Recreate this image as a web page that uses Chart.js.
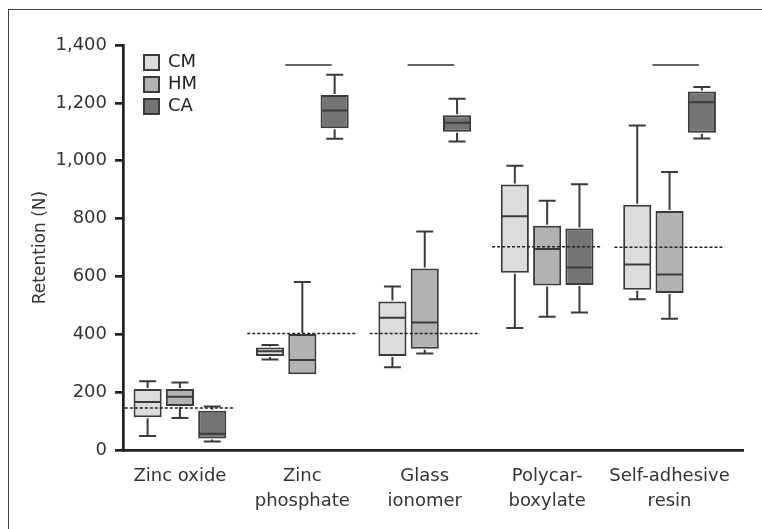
<!DOCTYPE html>
<html><head><meta charset="utf-8">
<script src="https://cdn.jsdelivr.net/npm/chart.js@4.4.1/dist/chart.umd.min.js"></script>
<style>
html,body{margin:0;padding:0;background:#fff;overflow:hidden}
#wrap{position:relative;width:762px;height:529px;overflow:hidden}
#frame{position:absolute;left:8px;top:9px;width:800px;height:600px;border:1.5px solid #444;box-sizing:border-box;pointer-events:none}
canvas{position:absolute;left:0;top:0}
</style></head><body>
<div id="wrap"><canvas id="c" width="762" height="529"></canvas><div id="frame"></div></div>
<script>
// ---- data ----
const categories = [["Zinc oxide"], ["Zinc", "phosphate"], ["Glass", "ionomer"], ["Polycar-", "boxylate"], ["Self-adhesive", "resin"]];
const seriesNames = ["CM", "HM", "CA"];
// each entry: [min, Q1, median, Q3, max]
const cmStats = [[48, 113, 166, 211, 238], [313, 325, 341, 354, 363], [286, 325, 457, 513, 565], [422, 613, 808, 918, 983], [521, 554, 641, 848, 1122]];
const hmStats = [[111, 152, 184, 211, 233], [262, 262, 311, 401, 581], [334, 350, 441, 627, 755], [461, 569, 695, 775, 862], [454, 543, 607, 826, 961]];
const caStats = [[29, 40, 56, 136, 150], [1076, 1112, 1174, 1227, 1297], [1066, 1100, 1131, 1157, 1214], [475, 570, 631, 766, 919], [1077, 1097, 1202, 1239, 1255]];
const refLine = [145, 403, 403, 703, 701];
const sigGroups = [1, 2, 4];
const sigLevel = 1331;
const yTicks = {min: 0, max: 1400, step: 200};

// ---- styling ----
const FONT = "'DejaVu Sans', sans-serif";
const fills = ['#dcdcde', '#b2b2b4', '#747476'];
const edge = '#3a3a3a';
const stats = [cmStats, hmStats, caStats];

const boxDatasets = seriesNames.map((name, s) => ({
  type: 'bar', label: name, order: 2,
  data: stats[s].map((st, i) => ({x: i, y: [st[1], st[3]]})),
  backgroundColor: fills[s], borderColor: edge, borderWidth: 2, borderSkipped: false,
  categoryPercentage: 0.792, barPercentage: 0.87
}));

const dashData = [];
refLine.forEach((v, i) => { dashData.push({x: i - 0.45, y: v}, {x: i + 0.45, y: v}, {x: i + 0.5, y: null}); });
const sigData = [];
sigGroups.forEach(i => { sigData.push({x: i - 0.14, y: sigLevel}, {x: i + 0.24, y: sigLevel}, {x: i + 0.3, y: null}); });

const lineDatasets = [
  {type: 'line', label: 'ref', order: 1, data: dashData, borderColor: '#222', borderWidth: 1.5, borderDash: [3, 2], pointRadius: 0, spanGaps: false, fill: false},
  {type: 'line', label: 'sig', order: 1, data: sigData, borderColor: '#333', borderWidth: 1.6, pointRadius: 0, spanGaps: false, fill: false}
];

const whiskerPlugin = {
  id: 'whiskers',
  afterDatasetDraw(chart, args) {
    const s = args.index;
    if (s >= stats.length) return;
    const ctx = chart.ctx, y = chart.scales.y;
    const meta = chart.getDatasetMeta(s);
    ctx.save();
    ctx.strokeStyle = edge; ctx.lineWidth = 2; ctx.lineCap = 'butt';
    meta.data.forEach((bar, i) => {
      const [lo, q1, med, q3, hi] = stats[s][i];
      const half = bar.width / 2 - 1, cap = 8.5;
      const pLo = y.getPixelForValue(lo), pQ1 = y.getPixelForValue(q1), pMed = y.getPixelForValue(med), pQ3 = y.getPixelForValue(q3), pHi = y.getPixelForValue(hi);
      ctx.beginPath();
      ctx.moveTo(bar.x - half, pMed); ctx.lineTo(bar.x + half, pMed);
      if (hi > q3) { ctx.moveTo(bar.x, pQ3 - 1); ctx.lineTo(bar.x, pHi); ctx.moveTo(bar.x - cap, pHi); ctx.lineTo(bar.x + cap, pHi); }
      if (lo < q1) { ctx.moveTo(bar.x, pQ1 + 1); ctx.lineTo(bar.x, pLo); ctx.moveTo(bar.x - cap, pLo); ctx.lineTo(bar.x + cap, pLo); }
      ctx.stroke();
    });
    ctx.restore();
  }
};

const legendPlacer = {
  id: 'legendPlacer',
  afterLayout(chart) {
    const lg = chart.legend;
    if (lg) { lg.left = chart.chartArea.left + 17; lg.top = chart.chartArea.top + 4.5; }
  }
};

new Chart(document.getElementById('c'), {
  type: 'bar',
  data: {datasets: [...boxDatasets, ...lineDatasets]},
  plugins: [whiskerPlugin, legendPlacer],
  options: {
    responsive: false, animation: false, devicePixelRatio: 1,
    layout: {padding: {left: 26, top: 45, right: 19, bottom: 0}},
    plugins: {
      tooltip: {enabled: false},
      legend: {
        position: 'chartArea', align: 'start',
        labels: {boxWidth: 15, boxHeight: 15, padding: 4, color: '#222', font: {family: FONT, size: 18},
          filter: item => item.datasetIndex < seriesNames.length}
      }
    },
    scales: {
      x: {
        type: 'linear', min: -0.465, max: 4.6, offset: false,
        afterBuildTicks: sc => { sc.ticks = categories.map((_, i) => ({value: i})); },
        afterFit: sc => { sc.height = 79; },
        grid: {display: false, drawTicks: false, offset: false},
        border: {display: true, color: '#222', width: 2.7},
        ticks: {callback: v => categories[v], font: {family: FONT, size: 18, lineHeight: 1.4}, color: '#333', padding: 14, maxRotation: 0, autoSkip: false}
      },
      y: {
        type: 'linear', min: yTicks.min, max: yTicks.max,
        afterFit: sc => { sc.width = 97; },
        grid: {display: true, drawOnChartArea: false, drawTicks: true, tickLength: 8, lineWidth: 2.7, color: '#222'},
        border: {display: true, color: '#222', width: 2.7},
        ticks: {stepSize: yTicks.step, callback: v => v.toLocaleString('en-US'), font: {family: FONT, size: 18}, color: '#333', padding: 8},
        title: {display: true, text: 'Retention (N)', font: {family: FONT, size: 17}, color: '#333', padding: {top: 4, bottom: 4}}
      }
    }
  }
});
</script>
</body></html>
